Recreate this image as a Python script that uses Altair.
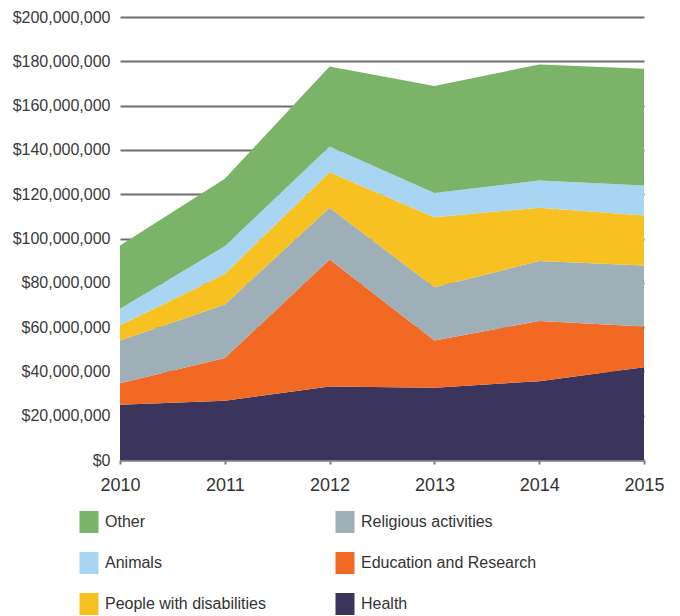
import altair as alt
import pandas as pd

years = [2010, 2011, 2012, 2013, 2014, 2015]
categories = ["Health", "Education and Research", "Religious activities",
              "People with disabilities", "Animals", "Other"]
# values in millions of dollars
health = [25.0, 26.7, 33.2, 32.6, 35.6, 41.9]
education = [9.7, 19.3, 57.3, 21.4, 27.1, 18.4]
religious = [19.3, 24.2, 23.4, 24.0, 27.1, 27.5]
disabilities = [6.7, 13.8, 16.0, 31.6, 24.1, 22.6]
animals = [7.6, 12.5, 11.6, 10.9, 12.3, 13.5]
other = [28.5, 30.5, 36.2, 48.3, 52.4, 52.7]

series = [health, education, religious, disabilities, animals, other]
legend_order = ["Other", "Religious activities", "Animals",
                "Education and Research", "People with disabilities", "Health"]
colors = {"Other": "#7bb369", "Religious activities": "#9eafb8",
          "Animals": "#a8d5f1", "Education and Research": "#f26924",
          "People with disabilities": "#f7c122", "Health": "#3b345c"}

rows = []
for rank, (cat, vals) in enumerate(zip(categories, series)):
    for y, v in zip(years, vals):
        rows.append({"year": y, "category": cat, "value": v * 1e6, "rank": rank})
df = pd.DataFrame(rows)

font = "Liberation Sans"

chart = alt.Chart(df).mark_area(opacity=1).encode(
    x=alt.X("year:Q",
            scale=alt.Scale(domain=[2010, 2015], nice=False, zero=False),
            axis=alt.Axis(values=years, format="d", title=None, grid=False,
                          labelFontSize=18, labelColor="#333333", labelFont=font,
                          labelFontWeight="normal", labelFlush=False,
                          labelPadding=12, tickSize=4, tickColor="#7f7f7f",
                          tickWidth=2, domainColor="#808080", domainWidth=2)),
    y=alt.Y("value:Q", stack="zero",
            scale=alt.Scale(domain=[0, 200000000], nice=False),
            axis=alt.Axis(values=list(range(0, 200000001, 20000000)),
                          format="$,.0f", title=None, ticks=False, domain=False,
                          labelFontSize=16, labelColor="#3a3a3a", labelFont=font,
                          labelFontWeight="normal",
                          labelPadding=10, gridColor="#6d6e71", gridWidth=2)),
    color=alt.Color("category:N",
                    scale=alt.Scale(domain=legend_order,
                                    range=[colors[c] for c in legend_order]),
                    legend=alt.Legend(title=None, orient="none", legendX=-42,
                                      legendY=494, columns=2, direction="horizontal",
                                      symbolType="M-0.864,-1H0.864V1H-0.864Z",
                                      symbolSize=484, symbolStrokeWidth=0,
                                      symbolOpacity=1,
                                      labelFontSize=16, labelFont=font,
                                      labelColor="#333333", labelOffset=5,
                                      rowPadding=19, columnPadding=68,
                                      labelLimit=400)),
    order=alt.Order("rank:Q", sort="ascending"),
).properties(
    width=524, height=443,
    autosize=alt.AutoSizeParams(type="none"),
    padding={"left": 112, "top": 9, "right": 28, "bottom": 156},
).configure_view(stroke=None).configure_axis(gridCap="butt")

chart.save("out.html", embed_options={"renderer": "svg", "actions": False})
